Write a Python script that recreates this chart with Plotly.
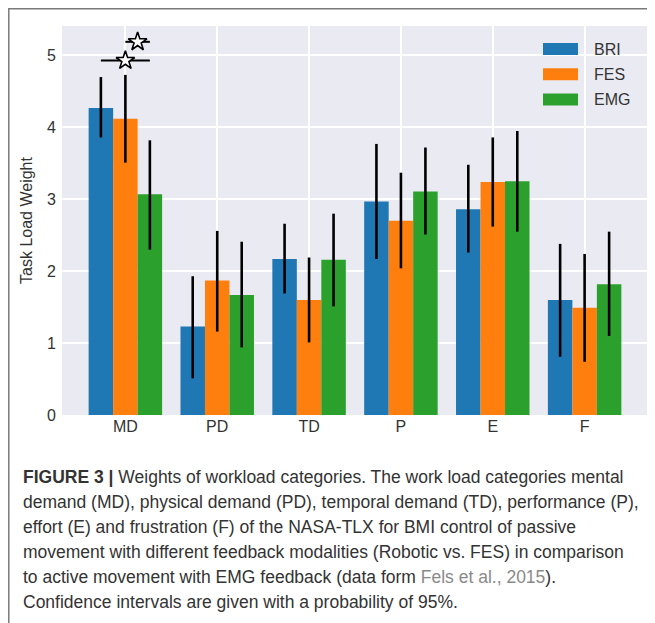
import plotly.graph_objects as go

# ─── Data ─────────────────────────────────────────────────────────────────────

CATEGORIES = ["MD", "PD", "TD", "P", "E", "F"]
GROUPS     = ["BRI", "FES", "EMG"]

BRI_MEAN = [4.27, 1.23, 2.17, 2.97, 2.86, 1.60]
BRI_HI   = [4.70, 1.93, 2.66, 3.77, 3.48, 2.38]
BRI_LO   = [3.86, 0.51, 1.69, 2.17, 2.26, 0.81]

FES_MEAN = [4.12, 1.87, 1.60, 2.70, 3.24, 1.49]
FES_HI   = [4.73, 2.56, 2.19, 3.37, 3.86, 2.24]
FES_LO   = [3.51, 1.16, 1.01, 2.04, 2.62, 0.74]

EMG_MEAN = [3.07, 1.67, 2.16, 3.11, 3.25, 1.82]
EMG_HI   = [3.82, 2.41, 2.80, 3.72, 3.95, 2.55]
EMG_LO   = [2.30, 0.94, 1.51, 2.51, 2.55, 1.10]

# significance brackets: (category, from group, to group, level)
SIG_CAT   = ["MD", "MD"]
SIG_FROM  = [0, 1]
SIG_TO    = [2, 2]
SIG_LEVEL = [4.93, 5.19]

Y_TICKS = [0, 1, 2, 3, 4, 5]

CAPTION = [
    "<b>FIGURE 3 |</b> Weights of workload categories. The work load categories mental",
    "demand (MD), physical demand (PD), temporal demand (TD), performance (P),",
    "effort (E) and frustration (F) of the NASA-TLX for BMI control of passive",
    "movement with different feedback modalities (Robotic vs. FES) in comparison",
    "to active movement with EMG feedback (data form <span style='color:#8a8a8a'>Fels et al., 2015</span>).",
    "Confidence intervals are given with a probability of 95%.",
]

# ─── Style ────────────────────────────────────────────────────────────────────

COLORS   = ["#1f77b4", "#ff7f0e", "#2ca02c"]
BG       = "#EAEAF2"
TEXT     = "#333333"
FONT     = "Liberation Sans, Arial, sans-serif"

# the page body has an 8px margin, so the figure sits 8px in from the window
PAGE_OFF = 8
W, H = 655 - PAGE_OFF, 623 - PAGE_OFF
L, R, T, B = 62 - PAGE_OFF, 7, 26 - PAGE_OFF, 208
BARGAP = 0.2
BAR_W  = (1 - BARGAP) / len(GROUPS)
X_PAD  = 0.05 * (len(CATEGORIES) - 1 + (1 - BARGAP))


def px_x(px):
    # window pixel -> paper x
    return (px - PAGE_OFF - L) / (W - L - R)


def px_y(py):
    # window pixel -> paper y
    return (H - B - (py - PAGE_OFF)) / (H - T - B)


# ─── Figure ───────────────────────────────────────────────────────────────────

fig = go.Figure()
x = list(range(len(CATEGORIES)))

series = [
    (BRI_MEAN, BRI_HI, BRI_LO),
    (FES_MEAN, FES_HI, FES_LO),
    (EMG_MEAN, EMG_HI, EMG_LO),
]
for name, color, (mean, hi, lo) in zip(GROUPS, COLORS, series):
    fig.add_trace(go.Bar(
        x=x, y=mean, name=name,
        marker=dict(color=color, line=dict(width=0)),
        error_y=dict(
            type="data", symmetric=False,
            array=[h - m for h, m in zip(hi, mean)],
            arrayminus=[m - l for m, l in zip(mean, lo)],
            color="black", thickness=2.6, width=0,
        ),
        showlegend=False,
    ))

# ── significance lines and stars ─────────────────────────────────────────────
for cat, g0, g1, lvl in zip(SIG_CAT, SIG_FROM, SIG_TO, SIG_LEVEL):
    c = CATEGORIES.index(cat)
    xa = c + (g0 - 1) * BAR_W
    xb = c + (g1 - 1) * BAR_W
    fig.add_trace(go.Scatter(
        x=[xa, xb], y=[lvl, lvl], mode="lines",
        line=dict(color="black", width=2), showlegend=False,
        hoverinfo="skip",
    ))
    fig.add_trace(go.Scatter(
        x=[(xa + xb) / 2], y=[lvl], mode="markers",
        marker=dict(symbol="star", size=14, color="white",
                    line=dict(color="black", width=1.6)),
        showlegend=False, hoverinfo="skip",
    ))

# ── manual legend (wide patches) ─────────────────────────────────────────────
shapes = []
annotations = []
for i, (name, color) in enumerate(zip(GROUPS, COLORS)):
    cy = 49 + i * 25.3
    shapes.append(dict(
        type="rect", xref="paper", yref="paper",
        x0=px_x(543), x1=px_x(578), y0=px_y(cy + 6), y1=px_y(cy - 6),
        fillcolor=color, line=dict(width=0), layer="above",
    ))
    annotations.append(dict(
        text=name, xref="paper", yref="paper",
        x=px_x(592), y=px_y(cy), xanchor="left", yanchor="middle",
        showarrow=False, font=dict(family=FONT, size=16, color=TEXT),
    ))

# ── frame around figure + caption ────────────────────────────────────────────
shapes.append(dict(
    type="rect", xref="paper", yref="paper",
    x0=px_x(PAGE_OFF + 0.8), x1=px_x(700), y0=px_y(700), y1=px_y(8.8),
    line=dict(color="#7a7a7a", width=1.5), fillcolor="rgba(0,0,0,0)",
    layer="above",
))

# ── caption ──────────────────────────────────────────────────────────────────
for i, line in enumerate(CAPTION):
    annotations.append(dict(
        text=line, xref="paper", yref="paper",
        x=px_x(21), y=px_y(477 + i * 25), xanchor="left", yanchor="middle",
        showarrow=False, align="left",
        font=dict(family=FONT, size=17.5, color="#333333"),
    ))

fig.update_layout(
    width=W, height=H,
    margin=dict(l=L, r=R, t=T, b=B),
    paper_bgcolor="white",
    plot_bgcolor=BG,
    font=dict(family=FONT, color=TEXT, size=16),
    barmode="group",
    bargap=BARGAP,
    bargroupgap=0,
    xaxis=dict(
        tickmode="array", tickvals=x, ticktext=CATEGORIES,
        range=[-1.5 * BAR_W - X_PAD, len(CATEGORIES) - 1 + 1.5 * BAR_W + X_PAD],
        showgrid=True, gridcolor="white", gridwidth=1.6,
        zeroline=False, showline=False, automargin=False,
        ticks="",
        tickfont=dict(size=16, color=TEXT),
    ),
    yaxis=dict(
        range=[0, 5.41], tickmode="array", tickvals=Y_TICKS,
        showgrid=True, gridcolor="white", gridwidth=1.6,
        zeroline=False, showline=False, automargin=False,
        ticks="outside", ticklen=2, tickcolor="rgba(0,0,0,0)",
        tickfont=dict(size=16, color=TEXT),
        title=dict(text="Task Load Weight", font=dict(size=16, color=TEXT),
                   standoff=10),
    ),
    shapes=shapes,
    annotations=annotations,
)

fig.write_html("out.html")
